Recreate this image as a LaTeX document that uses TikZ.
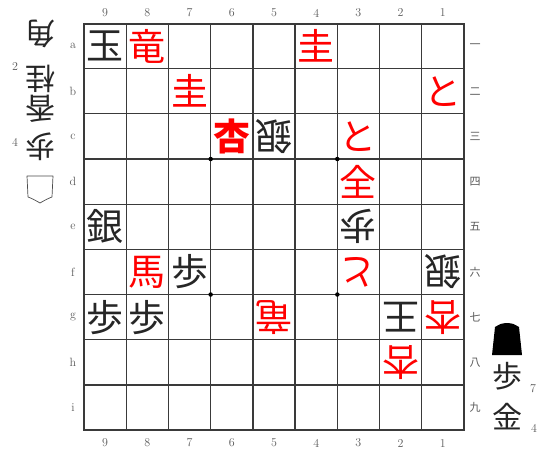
\documentclass[tikz,border=0pt]{standalone}
\usepackage{fontspec}
\newfontfamily\cjk{Noto Sans CJK JP}
\definecolor{promoted}{HTML}{FF0000}
\definecolor{gridline}{HTML}{3A3A3A}
\definecolor{labelgray}{HTML}{5A5A5A}
\tikzset{
  sente/.style={font=\cjk\fontsize{37}{37}\selectfont, inner sep=0pt, text=black!85},
  gote/.style={sente, rotate=180},
  senpro/.style={sente, text=promoted},
  gotepro/.style={gote, text=promoted},
  lastmove/.style={senpro, font=\cjk\bfseries\fontsize{37}{37}\selectfont},
  handpiece/.style={sente, font=\cjk\fontsize{30}{30}\selectfont},
  gotehand/.style={handpiece, rotate=180},
  filelabel/.style={font=\fontsize{12}{12}\selectfont, text=labelgray, inner sep=0pt},
  ranklabel/.style={font=\cjk\fontsize{11}{11}\selectfont, text=labelgray, inner sep=0pt},
  handcount/.style={font=\fontsize{12}{12}\selectfont, text=labelgray, inner sep=0pt},
  hoshi/.style={circle, fill=black, inner sep=0pt, minimum size=4.5pt},
}
\begin{document}
\begin{tikzpicture}[x=1pt, y=-1pt]
    \useasboundingbox[fill=white] (0,0) rectangle (545,450);
    \foreach \i in {1,...,8} {
      \draw[gridline, line width=1.3pt] ({84+\i*42.22},23.5) -- ({84+\i*42.22},430);
      \draw[gridline, line width=1.3pt] (84,{23.5+\i*45.17}) -- (464,{23.5+\i*45.17});
    }
    \draw[gridline, line width=2pt] (84,23.5) rectangle (464,430);
    \foreach \hx/\hy in {3/3, 6/3, 3/6, 6/6}
      \node[hoshi] (h\hx\hy) at ({84+\hx*42.22},{23.5+\hy*45.17}) {};
    \foreach \f in {1,...,9} {
      \node[filelabel] (ft\f) at ({84+(9.5-\f)*42.22},13) {\f};
      \node[filelabel] (fb\f) at ({84+(9.5-\f)*42.22},443) {\f};
    }
    \foreach \r/\letter/\kanji in {1/a/一, 2/b/二, 3/c/三, 4/d/四, 5/e/五, 6/f/六, 7/g/七, 8/h/八, 9/i/九} {
      \node[filelabel] (rl\r) at (73,{23.5+(\r-0.5)*45.17}) {\letter};
      \node[ranklabel] (rr\r) at (475,{23.5+(\r-0.5)*45.17}) {\kanji};
    }
    \foreach \f/\r/\c/\s in {9/1/玉/sente, 8/1/竜/senpro, 4/1/圭/senpro,
        7/2/圭/senpro, 1/2/と/senpro,
        6/3/杏/lastmove, 5/3/銀/gote, 3/3/と/senpro,
        3/4/全/senpro,
        9/5/銀/sente, 3/5/歩/gote,
        8/6/馬/senpro, 7/6/歩/sente, 3/6/と/gotepro, 1/6/銀/gote,
        9/7/歩/sente, 8/7/歩/sente, 5/7/竜/gotepro, 2/7/王/gote, 1/7/杏/gotepro,
        2/8/杏/gotepro}
      \node[\s] (p\f\r) at ({84+(9.5-\f)*42.22},{23.5+(\r-0.5)*45.17}) {\c};
    \node[gotehand] (gkaku) at (40,34) {角};
    \node[gotehand] (gkei) at (40,78.5) {桂};
    \node[gotehand] (gkyo) at (40,108.5) {香};
    \node[gotehand] (gfu) at (40,146.5) {歩};
    \node[handcount] (gkein) at (15,67) {2};
    \node[handcount] (gfun) at (15,142) {4};
    \draw[black!70, line width=0.7pt, line join=round]
      (27,176) -- (53,176) -- (52,197) .. controls (47,199) .. (40,203)
      .. controls (33,199) .. (28,197) -- cycle;
    \fill[black, line join=round]
      (507,323) .. controls (513,323.5) .. (519,327) -- (522,355) -- (492,355) -- (495,327)
      .. controls (501,323.5) .. (507,323) -- cycle;
    \node[handpiece] (sfu) at (507,376) {歩};
    \node[handpiece] (skin) at (507,416.5) {金};
    \node[handcount] (sfun) at (533,389) {7};
    \node[handcount] (skinn) at (534,428) {4};
  \end{tikzpicture}
\end{document}
